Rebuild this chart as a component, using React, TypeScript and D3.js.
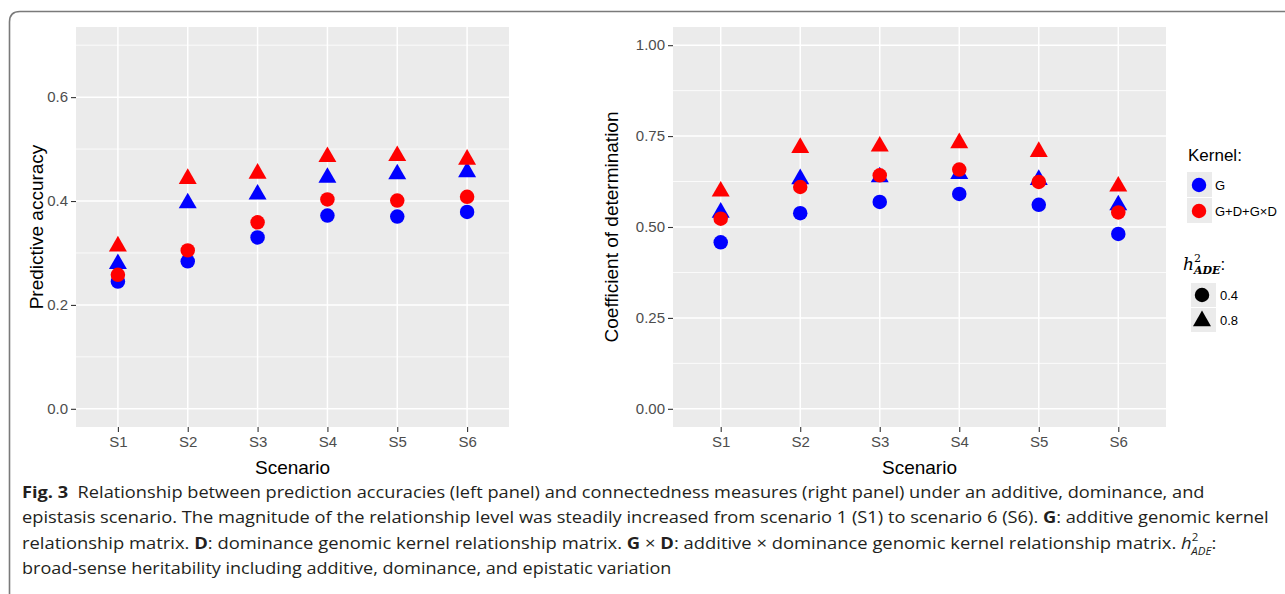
import { useEffect, useRef } from "react";
import * as d3 from "d3";

const SCENARIOS = ["S1", "S2", "S3", "S4", "S5", "S6"];

// predictive accuracy (left panel)
const ACC_G_04 = [0.245, 0.284, 0.33, 0.372, 0.37, 0.379];
const ACC_GDE_04 = [0.258, 0.305, 0.359, 0.403, 0.401, 0.408];
const ACC_G_08 = [0.279, 0.396, 0.413, 0.445, 0.452, 0.456];
const ACC_GDE_08 = [0.313, 0.443, 0.453, 0.485, 0.487, 0.48];

// coefficient of determination (right panel)
const CD_G_04 = [0.458, 0.538, 0.569, 0.591, 0.561, 0.481];
const CD_GDE_04 = [0.523, 0.61, 0.642, 0.658, 0.624, 0.54];
const CD_G_08 = [0.54, 0.632, 0.637, 0.646, 0.63, 0.56];
const CD_GDE_08 = [0.598, 0.718, 0.722, 0.731, 0.707, 0.612];

const ACC_TICKS = [0, 0.2, 0.4, 0.6];
const ACC_MINOR = [0.1, 0.3, 0.5, 0.7];
const CD_TICKS = [0, 0.25, 0.5, 0.75, 1];
const CD_MINOR = [0.125, 0.375, 0.625, 0.875];

const KERNELS = ["G", "G+D+G×D"];
const KERNEL_COLORS = ["#0000FF", "#FF0000"];
const HERIT = ["0.4", "0.8"];

const W = 1285;
const H = 594;
const FONT = "'Liberation Sans', Arial, sans-serif";
const CAPTION_FONT = "'Open Sans', 'Noto Sans', sans-serif";

const LEFT = {
  x: [76, 509],
  y: [27, 427],
  domain: [-0.035, 0.735],
  ticks: ACC_TICKS,
  minor: ACC_MINOR,
  fmt: d3.format(".1f"),
  title: "Predictive accuracy",
  titleX: 37,
  series: [
    { values: ACC_G_04, kernel: 0, shape: 0 },
    { values: ACC_G_08, kernel: 0, shape: 1 },
    { values: ACC_GDE_04, kernel: 1, shape: 0 },
    { values: ACC_GDE_08, kernel: 1, shape: 1 },
  ],
};

const RIGHT = {
  x: [673, 1166],
  y: [27, 427],
  domain: [-0.05, 1.05],
  ticks: CD_TICKS,
  minor: CD_MINOR,
  fmt: d3.format(".2f"),
  title: "Coefficient of determination",
  titleX: 612,
  series: [
    { values: CD_G_04, kernel: 0, shape: 0 },
    { values: CD_G_08, kernel: 0, shape: 1 },
    { values: CD_GDE_04, kernel: 1, shape: 0 },
    { values: CD_GDE_08, kernel: 1, shape: 1 },
  ],
};

const circle = d3.symbol(d3.symbolCircle, 165)();
const triangle = d3.symbol(d3.symbolTriangle, 140)();

function drawPanel(svg, cfg) {
  const x = d3.scalePoint().domain(SCENARIOS).range(cfg.x).padding(0.6);
  const y = d3.scaleLinear().domain(cfg.domain).range([cfg.y[1], cfg.y[0]]);
  const g = svg.append("g");

  g.append("rect")
    .attr("x", cfg.x[0])
    .attr("y", cfg.y[0])
    .attr("width", cfg.x[1] - cfg.x[0])
    .attr("height", cfg.y[1] - cfg.y[0])
    .attr("fill", "#EBEBEB");

  g.selectAll(".minor")
    .data(cfg.minor)
    .join("line")
    .attr("x1", cfg.x[0])
    .attr("x2", cfg.x[1])
    .attr("y1", (d) => y(d))
    .attr("y2", (d) => y(d))
    .attr("stroke", "#fff")
    .attr("stroke-width", 0.8);

  g.selectAll(".hmajor")
    .data(cfg.ticks)
    .join("line")
    .attr("x1", cfg.x[0])
    .attr("x2", cfg.x[1])
    .attr("y1", (d) => y(d))
    .attr("y2", (d) => y(d))
    .attr("stroke", "#fff")
    .attr("stroke-width", 1.5);

  g.selectAll(".vmajor")
    .data(SCENARIOS)
    .join("line")
    .attr("x1", (d) => x(d))
    .attr("x2", (d) => x(d))
    .attr("y1", cfg.y[0])
    .attr("y2", cfg.y[1])
    .attr("stroke", "#fff")
    .attr("stroke-width", 1.5);

  // y axis
  const yAxis = g
    .append("g")
    .attr("transform", `translate(${cfg.x[0]},0)`)
    .call(d3.axisLeft(y).tickValues(cfg.ticks).tickFormat(cfg.fmt).tickSize(5).tickPadding(3));
  yAxis.select(".domain").remove();
  yAxis.selectAll("line").attr("stroke", "#333").attr("stroke-width", 1.1);
  yAxis.selectAll("text").attr("fill", "#4D4D4D").attr("font-size", 15).attr("font-family", FONT);

  // x axis
  const xAxis = g
    .append("g")
    .attr("transform", `translate(0,${cfg.y[1]})`)
    .call(d3.axisBottom(x).tickSize(5).tickPadding(4));
  xAxis.select(".domain").remove();
  xAxis.selectAll("line").attr("stroke", "#333").attr("stroke-width", 1.1);
  xAxis.selectAll("text").attr("fill", "#4D4D4D").attr("font-size", 15).attr("font-family", FONT);

  // titles
  const cx = (cfg.x[0] + cfg.x[1]) / 2;
  const cy = (cfg.y[0] + cfg.y[1]) / 2;
  g.append("text")
    .attr("x", cx)
    .attr("y", 474)
    .attr("text-anchor", "middle")
    .attr("font-size", 19)
    .attr("font-family", FONT)
    .text("Scenario");
  g.append("text")
    .attr("transform", `translate(${cfg.titleX + 6},${cy}) rotate(-90)`)
    .attr("text-anchor", "middle")
    .attr("font-size", 19)
    .attr("font-family", FONT)
    .text(cfg.title);

  // points
  cfg.series.forEach((s) => {
    g.append("g")
      .selectAll("path")
      .data(s.values)
      .join("path")
      .attr("transform", (d, i) => `translate(${x(SCENARIOS[i])},${y(d)})`)
      .attr("d", s.shape === 0 ? circle : triangle)
      .attr("fill", KERNEL_COLORS[s.kernel]);
  });
}

function drawLegend(svg) {
  const g = svg.append("g").attr("font-family", FONT);
  g.append("text").attr("x", 1188).attr("y", 161).attr("font-size", 17).text("Kernel:");
  KERNELS.forEach((k, i) => {
    const y0 = 172 + i * 26;
    g.append("rect").attr("x", 1187).attr("y", y0).attr("width", 25).attr("height", 25).attr("fill", "#EBEBEB");
    g.append("path")
      .attr("transform", `translate(1199,${y0 + 13})`)
      .attr("d", circle)
      .attr("fill", KERNEL_COLORS[i]);
    g.append("text")
      .attr("x", 1215)
      .attr("y", y0 + 13)
      .attr("dy", "0.35em")
      .attr("font-size", 13)
      .text(k);
  });

  const h = g
    .append("text")
    .attr("x", 1183)
    .attr("y", 270)
    .attr("font-family", "'DejaVu Serif', serif")
    .attr("font-style", "italic")
    .attr("font-size", 17);
  h.append("tspan").text("h");
  h.append("tspan").attr("font-size", 11).attr("dx", 0).attr("dy", -8).attr("font-style", "normal").text("2");
  h.append("tspan").attr("font-size", 11).attr("dx", -7).attr("dy", 12).attr("font-weight", "bold").text("ADE");
  h.append("tspan").attr("dy", -4).attr("font-style", "normal").attr("font-family", FONT).text(":");

  HERIT.forEach((v, i) => {
    const y0 = 283 + i * 25;
    g.append("rect").attr("x", 1191).attr("y", y0).attr("width", 25).attr("height", 24).attr("fill", "#EBEBEB");
    g.append("path")
      .attr("transform", `translate(1202,${y0 + 12 + (i === 1 ? 1 : 0)})`)
      .attr("d", i === 0 ? circle : triangle)
      .attr("fill", "#000");
    g.append("text")
      .attr("x", 1220)
      .attr("y", y0 + 12)
      .attr("dy", "0.35em")
      .attr("font-size", 13)
      .text(v);
  });
}

// caption lines, each squeezed to the width it has in the figure
const CAPTION = [
  {
    target: 1206,
    parts: [
      { t: "Fig. 3", b: true },
      { t: "  Relationship between prediction accuracies (left panel) and connectedness measures (right panel) under an additive, dominance, and" },
    ],
  },
  {
    target: 1270,
    parts: [
      { t: "epistasis scenario. The magnitude of the relationship level was steadily increased from scenario 1 (S1) to scenario 6 (S6). " },
      { t: "G", b: true },
      { t: ": additive genomic kernel" },
    ],
  },
  {
    target: 1224,
    parts: [
      { t: "relationship matrix. " },
      { t: "D", b: true },
      { t: ": dominance genomic kernel relationship matrix. " },
      { t: "G", b: true },
      { t: " × " },
      { t: "D", b: true },
      { t: ": additive × dominance genomic kernel relationship matrix. " },
      { t: "h", i: true },
      { t: "2", sup: true },
      { t: "ADE", sub: true, i: true },
      { t: ":", back: true },
    ],
  },
  {
    target: 672,
    parts: [{ t: "broad-sense heritability including additive, dominance, and epistatic variation" }],
  },
];

function drawCaption(svg) {
  CAPTION.forEach((line, li) => {
    const base = 498 + li * 25.3;
    const t = svg
      .append("text")
      .attr("x", 0)
      .attr("y", 0)
      .attr("font-family", CAPTION_FONT)
      .attr("font-size", 16)
      .attr("fill", "#231F20")
      .style("white-space", "pre");
    line.parts.forEach((p) => {
      const s = t.append("tspan").text(p.t);
      if (p.b) s.attr("font-weight", "bold");
      if (p.i) s.attr("font-style", "italic");
      if (p.sup) s.attr("font-size", 10).attr("dy", -8);
      if (p.sub) s.attr("font-size", 10).attr("dy", 14).attr("dx", -6);
      if (p.back) s.attr("dy", -6);
    });
    const len = t.node().getComputedTextLength();
    const k = (line.target - 22) / len;
    t.attr("transform", `translate(22,${base}) scale(${k},1)`);
  });
}

function App() {
  const ref = useRef(null);

  useEffect(() => {
    const node = ref.current;
    if (!node) return;
    const svg = d3.select(node);
    svg.selectAll("*").remove();

    svg.append("rect").attr("width", W).attr("height", H).attr("fill", "#fff");
    // figure frame
    svg
      .append("path")
      .attr("d", `M9.5,${H} L9.5,22 Q9.5,11.5 20,11.5 L${W},11.5`)
      .attr("fill", "none")
      .attr("stroke", "#7a7a7a")
      .attr("stroke-width", 1.6);

    drawPanel(svg, LEFT);
    drawPanel(svg, RIGHT);
    drawLegend(svg);
    drawCaption(svg);
  }, []);

  return (
    <svg
      ref={ref}
      width={W}
      height={H}
      style={{ position: "absolute", left: 0, top: 0 }}
    />
  );
}

export default App;
